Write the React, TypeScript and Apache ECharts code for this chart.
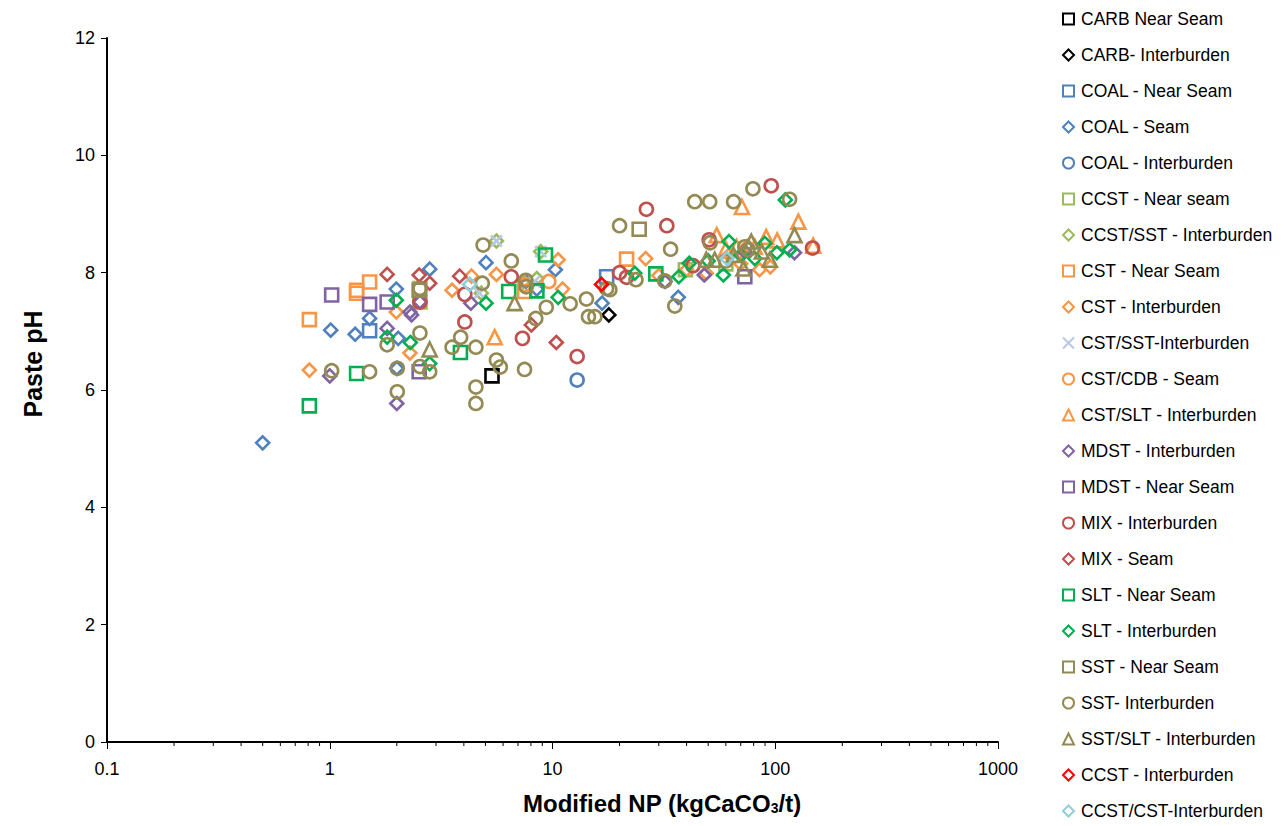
import React, { useEffect, useRef } from "react";
import * as echarts from "echarts";

// ---- Data: [Modified NP (kgCaCO3/t), Paste pH] ----
const carbNearSeam = [[5.35, 6.24]];
const carbInterburden = [[17.9, 7.28]];
const coalNearSeam = [[1.51, 7.01], [17.5, 7.93]];
const coalSeam = [
  [0.5, 5.1], [1.01, 7.02], [1.3, 6.95], [1.51, 7.22], [1.99, 7.72], [2.03, 6.88], [2.0, 6.37],
  [2.81, 8.06], [5.03, 8.17], [7.59, 7.85], [8.5, 7.72], [10.3, 8.05], [16.7, 7.48], [36.7, 7.58],
];
const coalInterburden = [[12.9, 6.17]];
const ccstNearSeam = [[2.54, 7.73], [2.54, 7.5], [39.5, 8.05], [60, 8.15]];
const ccstSstInterburden = [[5.6, 8.54], [8.85, 8.36], [4.79, 7.65], [8.5, 7.9], [7.4, 7.85]];
const cstNearSeam = [[0.81, 7.2], [1.32, 7.7], [1.32, 7.65], [1.51, 7.84], [7.5, 7.68], [21.5, 8.23]];
const cstInterburden = [
  [0.81, 6.34], [1.99, 7.33], [2.29, 6.63], [3.54, 7.7], [4.33, 7.94], [5.6, 7.97], [10.6, 8.22],
  [11.1, 7.72], [26.2, 8.24], [49, 7.99], [85, 8.05], [62, 8.3], [75, 8.45], [40, 8.05], [70, 8.15],
  [95, 8.1], [30, 7.95],
];
const cstSstInterburden = [[5.6, 8.54], [8.85, 8.36], [4.7, 7.65], [8.3, 7.85]];
const cstCdbSeam = [[9.63, 7.85], [7.5, 7.8]];
const cstSltInterburden = [
  [5.5, 6.9], [70.9, 9.12], [127, 8.87], [148, 8.46], [54.6, 8.64], [91, 8.61], [102, 8.55],
  [81, 8.44], [67, 8.44], [60, 8.4],
];
const mdstInterburden = [
  [1.0, 6.24], [1.81, 7.05], [2.29, 7.33], [2.33, 7.28], [2.0, 5.77], [2.54, 7.5], [4.3, 7.48],
  [48, 7.96], [73, 8.36], [122, 8.34], [32, 7.85],
];
const mdstNearSeam = [[1.02, 7.62], [1.51, 7.46], [1.81, 7.5], [2.52, 6.31], [73, 7.93]];
const mixInterburden = [
  [2.54, 7.5], [4.04, 7.63], [4.04, 7.16], [6.53, 7.93], [7.33, 6.88], [12.9, 6.57], [20, 8.0],
  [21.5, 7.92], [26.4, 9.08], [32.6, 8.8], [42.7, 8.12], [50.5, 8.56], [95.9, 9.48], [147, 8.42],
];
const mixSeam = [[1.81, 7.97], [2.52, 7.96], [2.81, 7.82], [3.83, 7.94], [8.04, 7.11], [10.4, 6.81]];
const sltNearSeam = [[0.81, 5.73], [1.32, 6.28], [3.86, 6.64], [6.36, 7.68], [8.51, 7.69], [9.3, 8.3], [29.1, 7.98]];
const sltInterburden = [
  [1.99, 7.53], [1.81, 6.9], [2.3, 6.81], [2.81, 6.45], [5.03, 7.48], [10.6, 7.58], [23.4, 7.99],
  [36.9, 7.93], [41.1, 8.16], [58.5, 7.96], [62, 8.53], [81, 8.24], [89.8, 8.5], [101.7, 8.34],
  [116, 8.39], [111, 9.24], [50, 8.2], [70, 8.3],
];
const sstNearSeam = [[24.5, 8.74], [2.52, 7.7]];
const sstInterburden = [
  [1.02, 6.33], [1.51, 6.31], [1.81, 6.77], [2.01, 6.37], [2.01, 5.97], [2.54, 7.73], [2.54, 6.97],
  [2.54, 6.4], [2.81, 6.31], [3.54, 6.73], [3.87, 6.9], [4.53, 6.73], [4.53, 6.05], [4.53, 5.77],
  [4.84, 7.82], [4.88, 8.47], [5.6, 6.51], [5.83, 6.39], [6.53, 8.2], [7.59, 7.87], [7.62, 7.76],
  [7.49, 6.35], [8.41, 7.22], [9.38, 7.41], [12.0, 7.47], [14.2, 7.55], [14.5, 7.25], [15.5, 7.25],
  [17.5, 7.73], [18.1, 7.71], [20, 8.8], [23.7, 7.88], [31.9, 7.86], [33.9, 8.4], [35.4, 7.43],
  [43.5, 9.21], [50.8, 9.21], [65, 9.21], [79.4, 9.43], [116, 9.25], [51, 8.51], [73, 8.44],
  [75.3, 8.39], [60, 8.2],
];
const sstSltInterburden = [
  [2.81, 6.69], [6.76, 7.48], [49, 8.22], [53.5, 8.22], [78, 8.53], [87, 8.36], [94.5, 8.22],
  [72, 8.07], [122, 8.64], [65, 8.3],
];
const ccstInterburden = [[16.6, 7.8]];
const ccstCstInterburden = [[4.25, 7.8], [60.7, 8.24]];

const yTicks = [0, 2, 4, 6, 8, 10, 12];
const xDecades = [0.1, 1, 10, 100, 1000];

const CROSS = "path://M0,0L10,10M10,0L0,10";

const seriesDefs = [
  { name: "CARB Near Seam", symbol: "rect", color: "#000000", data: carbNearSeam },
  { name: "CARB- Interburden", symbol: "diamond", color: "#000000", data: carbInterburden },
  { name: "COAL - Near Seam", symbol: "rect", color: "#4f81bd", data: coalNearSeam },
  { name: "COAL - Seam", symbol: "diamond", color: "#4f81bd", data: coalSeam },
  { name: "COAL - Interburden", symbol: "circle", color: "#4f81bd", data: coalInterburden },
  { name: "CCST - Near seam", symbol: "rect", color: "#9bbb59", data: ccstNearSeam },
  { name: "CCST/SST - Interburden", symbol: "diamond", color: "#9bbb59", data: ccstSstInterburden },
  { name: "CST - Near Seam", symbol: "rect", color: "#f79646", data: cstNearSeam },
  { name: "CST - Interburden", symbol: "diamond", color: "#f79646", data: cstInterburden },
  { name: "CST/SST-Interburden", symbol: CROSS, color: "#b9c6e4", data: cstSstInterburden },
  { name: "CST/CDB - Seam", symbol: "circle", color: "#f79646", data: cstCdbSeam },
  { name: "CST/SLT - Interburden", symbol: "triangle", color: "#f79646", data: cstSltInterburden },
  { name: "MDST - Interburden", symbol: "diamond", color: "#8064a2", data: mdstInterburden },
  { name: "MDST - Near Seam", symbol: "rect", color: "#8064a2", data: mdstNearSeam },
  { name: "MIX - Interburden", symbol: "circle", color: "#c0504d", data: mixInterburden },
  { name: "MIX - Seam", symbol: "diamond", color: "#c0504d", data: mixSeam },
  { name: "SLT - Near Seam", symbol: "rect", color: "#00b050", data: sltNearSeam },
  { name: "SLT - Interburden", symbol: "diamond", color: "#00b050", data: sltInterburden },
  { name: "SST - Near Seam", symbol: "rect", color: "#948a54", data: sstNearSeam },
  { name: "SST- Interburden", symbol: "circle", color: "#948a54", data: sstInterburden },
  { name: "SST/SLT - Interburden", symbol: "triangle", color: "#948a54", data: sstSltInterburden },
  { name: "CCST - Interburden", symbol: "diamond", color: "#ff0000", data: ccstInterburden },
  { name: "CCST/CST-Interburden", symbol: "diamond", color: "#92cddc", data: ccstCstInterburden },
];

const symbolSize: Record<string, number> = { rect: 13, diamond: 13, circle: 13, triangle: 14 };

export default function App() {
  const ref = useRef<HTMLDivElement>(null);
  useEffect(() => {
    if (!ref.current) return;
    const chart = echarts.init(ref.current, null, { renderer: "svg" });
    const minorTicks: number[][] = [];
    for (let i = 0; i < xDecades.length - 1; i++) {
      for (let k = 2; k <= 9; k++) minorTicks.push([xDecades[i] * k, 0]);
    }
    const scatter = seriesDefs.map((s) => ({
      name: s.name,
      type: "scatter",
      symbol: s.symbol,
      symbolSize: symbolSize[s.symbol] || 11,
      data: s.data,
      itemStyle: {
        color: "rgba(0,0,0,0)",
        borderColor: s.color,
        borderWidth: 2.6,
        opacity: 1,
      },
      emphasis: { disabled: true },
      z: 3,
    }));
    const option: any = {
      animation: false,
      backgroundColor: "#ffffff",
      textStyle: { fontFamily: "'Liberation Sans', Arial, sans-serif" },
      grid: { left: 107, right: 286, top: 38, bottom: 84, containLabel: false },
      xAxis: {
        type: "log",
        logBase: 10,
        min: 0.1,
        max: 1000,
        axisLine: { show: true, lineStyle: { color: "#000", width: 2 } },
        axisTick: { show: true, inside: false, length: 7, lineStyle: { color: "#000", width: 1 } },
        splitLine: { show: false },
        minorTick: { show: false },
        axisLabel: {
          color: "#000",
          fontSize: 18,
          margin: 18,
          fontFamily: "'Liberation Sans Narrow', 'Liberation Sans', Arial, sans-serif",
          formatter: (v: number) => String(Number(v.toPrecision(6))),
        },
      },
      yAxis: {
        type: "value",
        min: 0,
        max: 12,
        interval: 2,
        axisLine: { show: true, onZero: false, lineStyle: { color: "#000", width: 2 } },
        axisTick: { show: true, inside: false, length: 6, lineStyle: { color: "#000", width: 1 } },
        splitLine: { show: false },
        axisLabel: {
          color: "#000",
          fontSize: 18,
          margin: 12,
          formatter: (v: number) => (yTicks.includes(v) ? String(v) : ""),
        },
      },
      legend: {
        orient: "vertical",
        left: 1062,
        top: 9,
        padding: 0,
        height: 817,
        itemWidth: 11,
        itemHeight: 11,
        itemGap: 16,
        textStyle: { fontSize: 17.5, color: "#000", lineHeight: 20, padding: [0, 0, 0, 2] },
        data: seriesDefs.map((s) => s.name),
        selectedMode: false,
      },
      graphic: [
        {
          type: "text",
          rotation: Math.PI / 2,
          x: 33,
          y: 364,
          style: {
            text: "Paste pH",
            fontSize: 25,
            fontWeight: "bold",
            fontFamily: "'Liberation Sans', Arial, sans-serif",
            fill: "#000",
            align: "center",
            verticalAlign: "middle",
          },
        },
        {
          type: "text",
          x: 662,
          y: 803,
          style: {
            text: "{b|Modified NP (kgCaCO}{s|3}{b|/t)}",
            align: "center",
            verticalAlign: "middle",
            rich: {
              b: { fontSize: 24, fontWeight: "bold", fontFamily: "'Liberation Sans', Arial, sans-serif", fill: "#000", color: "#000" },
              s: { fontSize: 14, fontWeight: "bold", fontFamily: "'Liberation Sans', Arial, sans-serif", fill: "#000", color: "#000", padding: [10, 0, 0, 0] },
            },
          },
        },
      ],
      series: [
        ...scatter,
        {
          type: "custom",
          name: "minorTicks",
          silent: true,
          clip: false,
          data: minorTicks,
          z: 5,
          renderItem: (params: any, api: any) => {
            const p = api.coord([api.value(0), api.value(1)]);
            return {
              type: "line",
              shape: { x1: p[0], y1: p[1], x2: p[0], y2: p[1] + 4 },
              style: { stroke: "#000", lineWidth: 1 },
            };
          },
        },
      ],
    };
    chart.setOption(option);
    return () => chart.dispose();
  }, []);
  return <div ref={ref} style={{ width: 1284, height: 826, margin: -8 }} />;
}
